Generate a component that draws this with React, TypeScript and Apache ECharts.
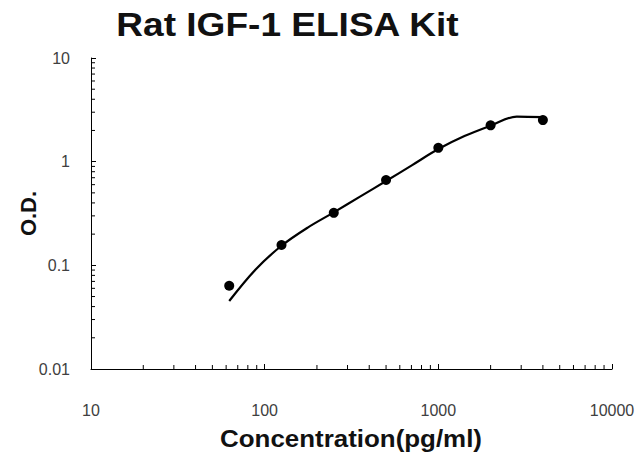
import React, { useEffect, useRef } from "react";
import * as echarts from "echarts";

const titleText = "Rat IGF-1 ELISA Kit";
const xAxisName = "Concentration(pg/ml)";
const yAxisName = "O.D.";

const concentrations = [62.5, 125, 250, 500, 1000, 2000, 4000];
const odValues = [0.0635, 0.157, 0.321, 0.665, 1.36, 2.24, 2.52];

const curveX = [62.5, 88.4, 125, 177, 250, 354, 500, 707, 1000, 1414, 2000, 2828, 4000];
const curveY = [0.0453, 0.0907, 0.1545, 0.2314, 0.3243, 0.46, 0.65, 0.927, 1.323, 1.765, 2.225, 2.72, 2.69];

const xMinorTicks = [20, 30, 40, 50, 60, 70, 80, 90, 200, 300, 400, 500, 600, 700, 800, 900, 2000, 3000, 4000, 5000, 6000, 7000, 8000, 9000];
const yMinorTicks = [0.02, 0.03, 0.04, 0.05, 0.06, 0.07, 0.08, 0.09, 0.2, 0.3, 0.4, 0.5, 0.6, 0.7, 0.8, 0.9, 2, 3, 4, 5, 6, 7, 8, 9];

const X_MIN = 10;
const X_MAX = 10000;
const Y_MIN = 0.01;
const Y_MAX = 10;

const fmt = (v: number) => (v >= 1 ? String(Math.round(v)) : String(+v.toPrecision(1)));

export default function App() {
  const ref = useRef<HTMLDivElement>(null);
  useEffect(() => {
    if (!ref.current) return;
    const chart = echarts.init(ref.current, undefined, { renderer: "svg" });
    const font = "'Liberation Sans', Arial, sans-serif";
    chart.setOption({
      animation: false,
      backgroundColor: "#ffffff",
      grid: { left: 91, right: 27, top: 58, bottom: 87, containLabel: false },
      xAxis: {
        type: "log",
        logBase: 10,
        min: X_MIN,
        max: X_MAX,
        axisLine: { show: true, lineStyle: { color: "#000", width: 1 } },
        axisTick: { show: true, inside: true, length: 5, lineStyle: { color: "#000" } },
        splitLine: { show: false },
        axisLabel: { margin: 33, fontFamily: font, fontSize: 16, color: "#404040", formatter: fmt },
      },
      yAxis: {
        type: "log",
        logBase: 10,
        min: Y_MIN,
        max: Y_MAX,
        axisLine: { show: true, lineStyle: { color: "#000", width: 1 } },
        axisTick: { show: true, inside: true, length: 5, lineStyle: { color: "#000" } },
        splitLine: { show: false },
        axisLabel: { margin: 21, fontFamily: font, fontSize: 16, color: "#404040", formatter: fmt },
      },
      graphic: [
        {
          type: "text",
          x: 287.5,
          y: 25,
          scaleX: 1.09,
          style: {
            text: titleText,
            font: `bold 34px ${font}`,
            fill: "#111",
            textAlign: "center",
            textVerticalAlign: "middle",
          },
        },
        {
          type: "text",
          x: 351,
          y: 438,
          scaleX: 1.08,
          style: {
            text: xAxisName,
            font: `bold 24px ${font}`,
            fill: "#111",
            textAlign: "center",
            textVerticalAlign: "middle",
          },
        },
        {
          type: "text",
          x: 28,
          y: 213.5,
          rotation: Math.PI / 2,
          style: {
            text: yAxisName,
            font: `bold 22px ${font}`,
            fill: "#111",
            textAlign: "center",
            textVerticalAlign: "middle",
          },
        },
      ],
      series: [
        {
          type: "custom",
          silent: true,
          clip: false,
          data: xMinorTicks.map((v) => [v, Y_MIN]),
          renderItem: (params: any, api: any) => {
            const p = api.coord([api.value(0), Y_MIN]);
            return {
              type: "line",
              shape: { x1: p[0], y1: p[1], x2: p[0], y2: p[1] - 4 },
              style: { stroke: "#000", lineWidth: 1 },
            };
          },
        },
        {
          type: "custom",
          silent: true,
          clip: false,
          data: yMinorTicks.map((v) => [X_MIN, v]),
          renderItem: (params: any, api: any) => {
            const p = api.coord([X_MIN, api.value(1)]);
            return {
              type: "line",
              shape: { x1: p[0], y1: p[1], x2: p[0] + 4, y2: p[1] },
              style: { stroke: "#000", lineWidth: 1 },
            };
          },
        },
        {
          type: "line",
          data: curveX.map((x, i) => [x, curveY[i]]),
          smooth: 0.35,
          symbol: "none",
          lineStyle: { color: "#000", width: 2.2 },
          z: 3,
        },
        {
          type: "scatter",
          data: concentrations.map((x, i) => [x, odValues[i]]),
          symbol: "circle",
          symbolSize: 10,
          itemStyle: { color: "#000", opacity: 1 },
          z: 4,
        },
      ],
    });
    return () => chart.dispose();
  }, []);
  return (
    <div
      ref={ref}
      style={{ position: "absolute", left: 0, top: 0, width: 639, height: 456, background: "#fff" }}
    />
  );
}
